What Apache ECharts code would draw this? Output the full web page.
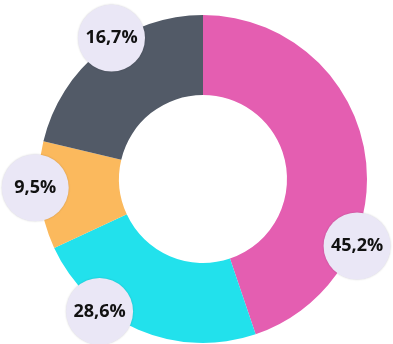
<!DOCTYPE html>
<html>
<head>
<meta charset="utf-8">
<script src="https://cdn.jsdelivr.net/npm/echarts@6/dist/echarts.min.js"></script>
<style>
  html, body { margin: 0; padding: 0; background: #fff; }
  #chart { width: 393px; height: 344px; }
</style>
</head>
<body>
<div id="chart"></div>
<script>
  // slices clockwise from 12 o'clock (sizes as drawn)
  var categories = ['A', 'B', 'C', 'D'];
  var values = [44.8, 23.3, 10.6, 21.3];
  // texts shown in the bubbles
  var labels = ['45,2%', '28,6%', '9,5%', '16,7%'];
  var colors = ['#E45EB1', '#22E1EC', '#FBB95D', '#525A67'];
  // where each bubble sits (degrees clockwise from top)
  var labelAngles = [113.5, 218, 267, 327];

  var cx = 203, cy = 179, rOut = 164, rIn = 84, rLabel = 168;

  var chart = echarts.init(document.getElementById('chart'));

  var options = {
    animation: false,
    series: [{
      type: 'pie',
      center: [cx, cy],
      radius: [rIn, rOut],
      startAngle: 90,
      clockwise: true,
      avoidLabelOverlap: false,
      data: categories.map(function (c, i) {
        return { name: c, value: values[i], itemStyle: { color: colors[i] } };
      }),
      label: {
        show: true,
        position: 'inside',
        formatter: function (p) { return labels[p.dataIndex]; },
        color: '#111',
        fontFamily: '"Open Sans"',
        fontWeight: 'bold',
        fontSize: 18,
        backgroundColor: '#EAE7F6',
        width: 67,
        height: 67,
        lineHeight: 67,
        borderRadius: 34,
        align: 'center',
        verticalAlign: 'middle',
        shadowColor: 'rgba(0,0,0,0.18)',
        shadowBlur: 2
      },
      labelLine: { show: false },
      labelLayout: function (params) {
        var a = labelAngles[params.dataIndex] * Math.PI / 180;
        return {
          x: cx + rLabel * Math.sin(a),
          y: cy - rLabel * Math.cos(a),
          align: 'center',
          verticalAlign: 'middle'
        };
      }
    }]
  };

  chart.setOption(options);
</script>
</body>
</html>
